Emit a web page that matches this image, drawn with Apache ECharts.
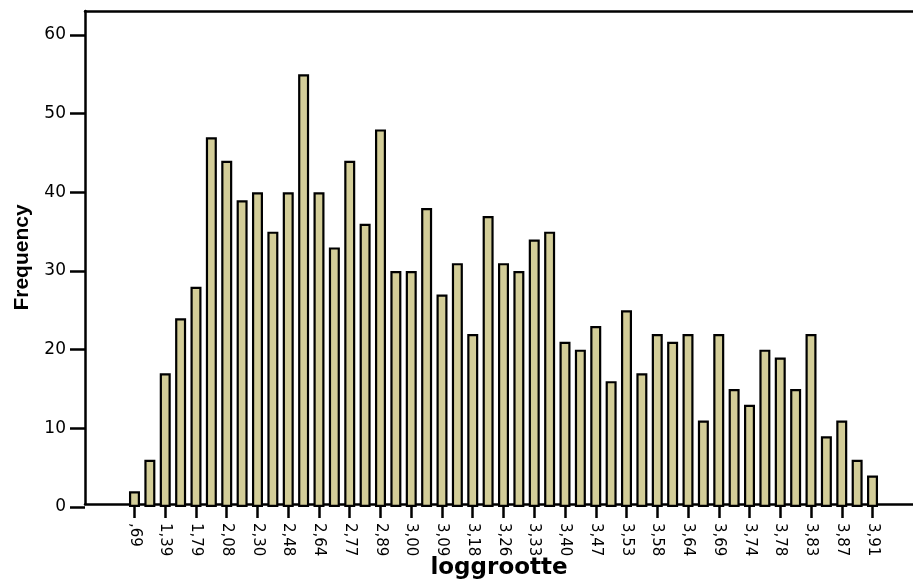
<!DOCTYPE html>
<html>
<head>
<meta charset="utf-8">
<script src="https://cdn.jsdelivr.net/npm/echarts@6/dist/echarts.min.js"></script>
<style>html,body{margin:0;padding:0;background:#fff}#c{width:913px;height:585px}</style>
</head>
<body>
<div id="c"></div>
<script>
// Categories (loggrootte); every other one is labelled in the reference
var categories = [',69','1,10','1,39','1,61','1,79','1,95','2,08','2,20','2,30','2,40','2,48','2,56','2,64','2,71','2,77','2,83','2,89','2,94','3,00','3,04','3,09','3,14','3,18','3,22','3,26','3,30','3,33','3,37','3,40','3,43','3,47','3,50','3,53','3,56','3,58','3,61','3,64','3,66','3,69','3,71','3,74','3,76','3,78','3,81','3,83','3,85','3,87','3,89','3,91'];
var frequency = [2,6,17,24,28,47,44,39,40,35,40,55,40,33,44,36,48,30,30,38,27,31,22,37,31,30,34,35,21,20,23,16,25,17,22,21,22,11,22,15,13,20,19,15,22,9,11,6,4];
var yTicks = {min: 0, max: 60, interval: 10};

var chart = echarts.init(document.getElementById('c'), null, {renderer: 'canvas'});
chart.setOption({
  animation: false,
  backgroundColor: '#ffffff',
  grid: [
    {left: 126.8, right: 32.8, top: 35, bottom: 78},
    {left: 85, right: -10, top: 11, bottom: 78}
  ],
  xAxis: [
    {
      gridIndex: 0, type: 'category', data: categories, boundaryGap: true,
      axisLine: {show: false},
      axisTick: {show: true, interval: 1, alignWithLabel: true, length: 11, lineStyle: {color: '#000', width: 2.5}},
      axisLabel: {interval: 1, rotate: -90, margin: 16, color: '#000', fontFamily: 'DejaVu Sans', fontSize: 15}
    },
    {
      gridIndex: 1, type: 'value', min: 0, max: 1, position: 'bottom',
      axisLine: {show: true, lineStyle: {color: '#000', width: 2.5}},
      axisTick: {show: false}, axisLabel: {show: false}, splitLine: {show: false},
      name: 'loggrootte', nameLocation: 'middle', nameGap: 53,
      nameTextStyle: {fontFamily: 'DejaVu Sans', fontWeight: 'bold', fontSize: 23, color: '#000'}
    },
    {
      gridIndex: 1, type: 'value', min: 0, max: 1, position: 'top',
      axisLine: {show: true, lineStyle: {color: '#000', width: 2.5}},
      axisTick: {show: false}, axisLabel: {show: false}, splitLine: {show: false}
    }
  ],
  yAxis: [
    {
      gridIndex: 0, type: 'value', min: yTicks.min, max: yTicks.max, interval: yTicks.interval,
      offset: 41.8,
      axisLine: {show: false},
      axisTick: {show: true, length: 15, lineStyle: {color: '#000', width: 2.5}},
      axisLabel: {margin: 19, color: '#000', fontFamily: 'DejaVu Sans', fontSize: 17},
      splitLine: {show: false}
    },
    {
      gridIndex: 1, type: 'value', min: 0, max: 1,
      axisLine: {show: true, lineStyle: {color: '#000', width: 2.5}},
      axisTick: {show: false}, axisLabel: {show: false}, splitLine: {show: false},
      name: 'Frequency', nameLocation: 'middle', nameGap: 52,
      nameTextStyle: {fontFamily: 'Liberation Sans', fontWeight: 'bold', fontSize: 21, color: '#000'}
    }
  ],
  series: [{
    type: 'bar', xAxisIndex: 0, yAxisIndex: 0,
    data: frequency,
    barWidth: 11,
    itemStyle: {color: '#d3cd98', borderColor: '#000', borderWidth: 2.2},
    z: 3
  }]
});
</script>
</body>
</html>
